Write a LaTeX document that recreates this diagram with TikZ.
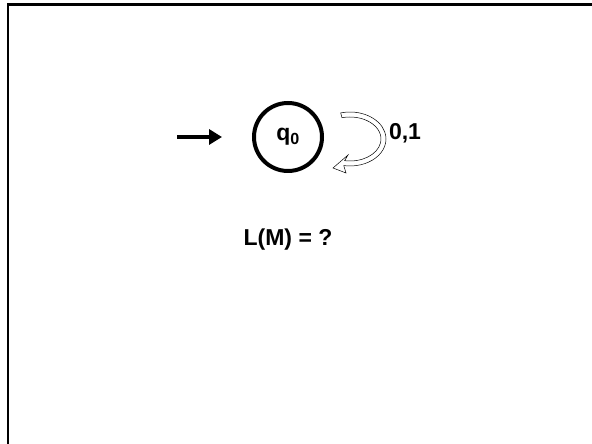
\documentclass[tikz,border=0pt]{standalone}
\usepackage{fontspec}
\setmainfont{Liberation Sans}
\usetikzlibrary{arrows.meta}

\begin{document}
\begin{tikzpicture}[x=1pt,y=1pt,
  state/.style={circle, draw, line width=4pt, minimum size=68pt, inner sep=0pt, font=\fontsize{23}{27}\selectfont\bfseries},
  initarrow/.style={line width=4.5pt, -{Triangle[length=13pt,width=15pt]}},
  loopband/.style={draw, line width=0.5pt, fill=white},
  lbl/.style={font=\fontsize{23}{27}\selectfont\bfseries}]
\useasboundingbox (0,0) rectangle (592,444);
\clip (0,0) rectangle (592,444);
\draw[line width=2.5pt] (8,439.5) rectangle (620,-20);
\node (q0) at (288,307) [state] {q\textsubscript{0}};
\coordinate (init) at (177,307);
\draw[initarrow] (init) -- (q0.west) [shorten >=30pt];
\coordinate (loopc) at (350,305);
\draw[loopband] ([shift={(105:36 and 27)}]loopc) arc[start angle=105, end angle=-100, x radius=36pt, y radius=27pt]
  -- ([shift={(-4,-34)}]loopc) -- ([shift={(-17,-29)}]loopc) -- ([shift={(-2,-16)}]loopc)
  -- ([shift={(-100:31 and 22)}]loopc) arc[start angle=-100, end angle=105, x radius=31pt, y radius=22pt] -- cycle;
\node (sym) at (405,311) [lbl] {0,1};
\node (lang) at (288,204) [lbl] {L(M) = ?};
\end{tikzpicture}
\end{document}
